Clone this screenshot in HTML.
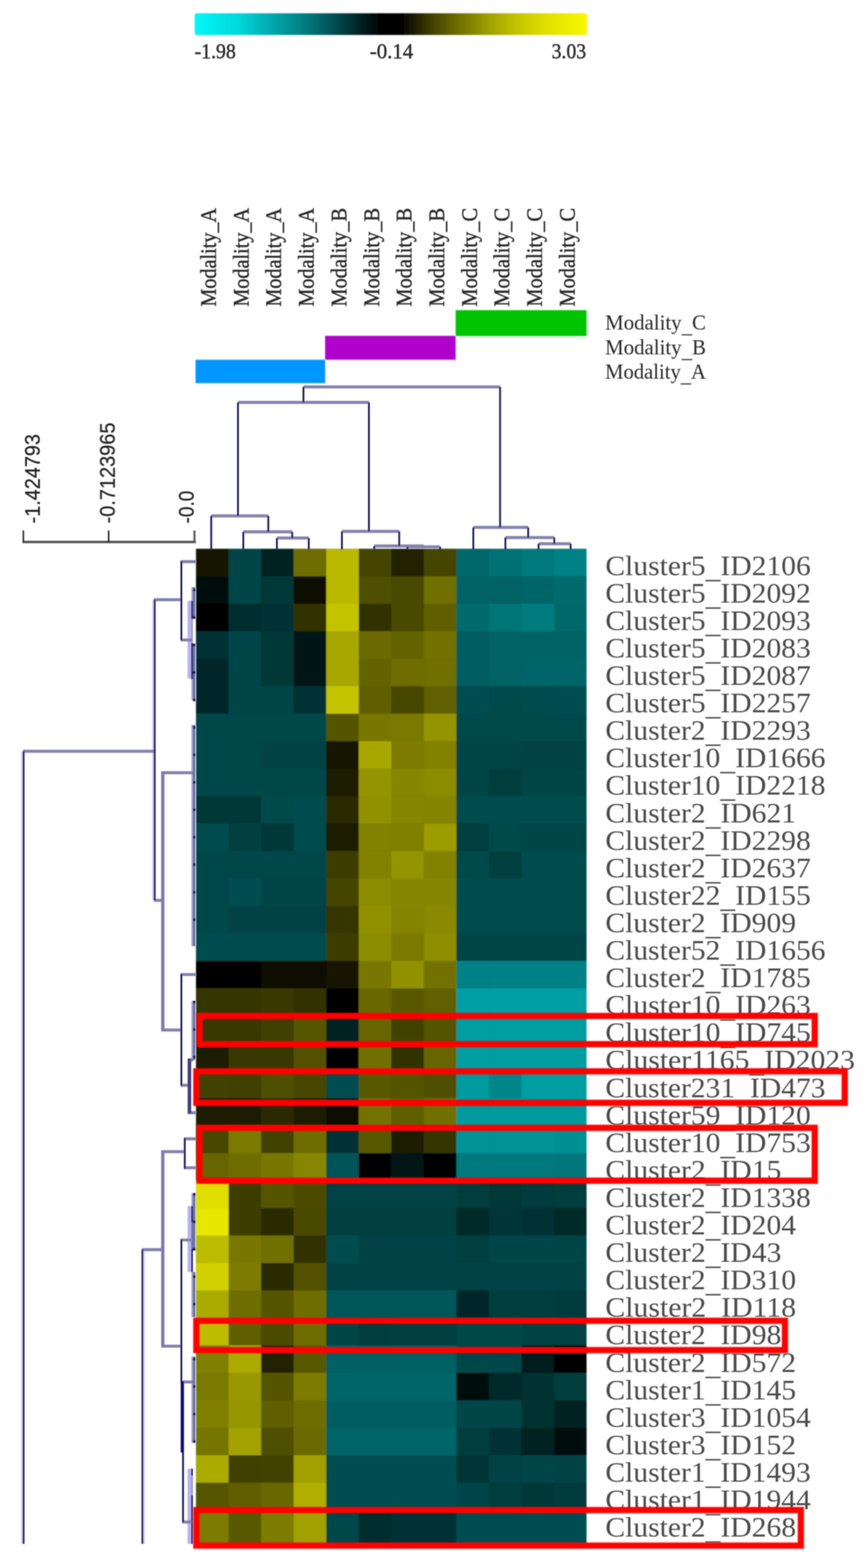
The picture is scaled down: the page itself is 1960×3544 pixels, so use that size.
<!DOCTYPE html>
<html lang="en"><head><meta charset="utf-8"><title>Hierarchical clustering heatmap</title>
<style>
html,body{margin:0;padding:0;background:#fff}
body{width:1960px;height:3544px;overflow:hidden}
svg{display:block}
.se{font-family:"Liberation Serif","DejaVu Serif",serif;fill:#2b2b2b}
.sa{font-family:"Liberation Sans","DejaVu Sans",sans-serif;fill:#222;stroke:#222;stroke-width:.5}
.cl{stroke:#2b2b2b;stroke-width:.9}
.rl{fill:#4c4c4c}
.v{stroke:#161257;stroke-width:4;fill:none}
.vw{stroke:#7f79ab;stroke-width:7.4;fill:none}
.vk{stroke:#0c0a6c;stroke-width:7.4;fill:none}
.vq{stroke:#3f3f7c;stroke-width:8;fill:none}
.ha{stroke:#cfc8fb;stroke-width:3.7;fill:none}
.h{stroke:#8583b0;stroke-width:6.8;fill:none}
.rb{stroke:#ff0505;stroke-width:14;fill:none}
.ri{stroke:#ff1800;stroke-opacity:.42;stroke-width:21;fill:none}
</style></head><body>
<svg width="1960" height="3544" viewBox="0 0 1960 3544" role="img" aria-label="Hierarchical clustering heat map">
<defs>
<linearGradient id="cb" x1="0" y1="0" x2="1" y2="0"><stop offset="0" stop-color="#00f8f8"/><stop offset="0.11" stop-color="#00d8dc"/><stop offset="0.19" stop-color="#00acb0"/><stop offset="0.27" stop-color="#008286"/><stop offset="0.35" stop-color="#005256"/><stop offset="0.43" stop-color="#001c1e"/><stop offset="0.47" stop-color="#000404"/><stop offset="0.53" stop-color="#040400"/><stop offset="0.59" stop-color="#363400"/><stop offset="0.67" stop-color="#6e6e00"/><stop offset="0.75" stop-color="#a0a000"/><stop offset="0.82" stop-color="#c3c300"/><stop offset="0.90" stop-color="#e1e100"/><stop offset="1" stop-color="#f8f800"/></linearGradient>
<filter id="bl" x="-5%" y="-5%" width="110%" height="110%"><feGaussianBlur stdDeviation="1.4"/></filter>
<filter id="bh" filterUnits="userSpaceOnUse" x="400" y="1200" width="980" height="2330"><feGaussianBlur stdDeviation="1.8"/></filter>
<filter id="bd" filterUnits="userSpaceOnUse" x="0" y="840" width="1400" height="2700"><feGaussianBlur stdDeviation="1.1"/></filter>
<filter id="bb" filterUnits="userSpaceOnUse" x="400" y="2250" width="1560" height="1290"><feGaussianBlur stdDeviation="1.5"/></filter>
<filter id="bt" x="-5%" y="-20%" width="110%" height="140%"><feGaussianBlur stdDeviation="0.8"/></filter>
<clipPath id="hc"><rect x="400" y="1200" width="927" height="2340"/></clipPath>
</defs>
<rect width="1960" height="3544" fill="#fff"/>
<g id="colorbar">
<rect x="440" y="30" width="887" height="49" rx="5" fill="url(#cb)" filter="url(#bl)"/>
<g class="se cl" font-size="49" filter="url(#bt)">
<text x="440" y="132" textLength="93" lengthAdjust="spacingAndGlyphs">-1.98</text>
<text x="836" y="132" textLength="98" lengthAdjust="spacingAndGlyphs">-0.14</text>
<text x="1247" y="132" textLength="78" lengthAdjust="spacingAndGlyphs">3.03</text>
</g></g>
<g id="collabels" class="se cl" font-size="51" filter="url(#bt)">
<text transform="translate(488,693) rotate(-90)" textLength="223" lengthAdjust="spacingAndGlyphs">Modality_A</text>
<text transform="translate(561.7,693) rotate(-90)" textLength="223" lengthAdjust="spacingAndGlyphs">Modality_A</text>
<text transform="translate(635.4,693) rotate(-90)" textLength="223" lengthAdjust="spacingAndGlyphs">Modality_A</text>
<text transform="translate(709.1,693) rotate(-90)" textLength="223" lengthAdjust="spacingAndGlyphs">Modality_A</text>
<text transform="translate(782.8,693) rotate(-90)" textLength="223" lengthAdjust="spacingAndGlyphs">Modality_B</text>
<text transform="translate(856.5,693) rotate(-90)" textLength="223" lengthAdjust="spacingAndGlyphs">Modality_B</text>
<text transform="translate(930.2,693) rotate(-90)" textLength="223" lengthAdjust="spacingAndGlyphs">Modality_B</text>
<text transform="translate(1003.9,693) rotate(-90)" textLength="223" lengthAdjust="spacingAndGlyphs">Modality_B</text>
<text transform="translate(1077.6,693) rotate(-90)" textLength="223" lengthAdjust="spacingAndGlyphs">Modality_C</text>
<text transform="translate(1151.3,693) rotate(-90)" textLength="223" lengthAdjust="spacingAndGlyphs">Modality_C</text>
<text transform="translate(1225,693) rotate(-90)" textLength="223" lengthAdjust="spacingAndGlyphs">Modality_C</text>
<text transform="translate(1298.7,693) rotate(-90)" textLength="223" lengthAdjust="spacingAndGlyphs">Modality_C</text>
</g>
<g id="bands" filter="url(#bl)">
<rect x="1030" y="701" width="296" height="58.5" fill="#00c400"/>
<rect x="735" y="759" width="295" height="54" fill="#b000cc"/>
<rect x="442" y="813" width="293" height="53" fill="#0096ff"/>
</g>
<g id="legend" class="se" font-size="49" filter="url(#bt)">
<text x="1368" y="745" textLength="228" lengthAdjust="spacingAndGlyphs">Modality<tspan dy="7">_</tspan><tspan dy="-7">C</tspan></text>
<text x="1368" y="800.5" textLength="228" lengthAdjust="spacingAndGlyphs">Modality<tspan dy="7">_</tspan><tspan dy="-7">B</tspan></text>
<text x="1368" y="856" textLength="228" lengthAdjust="spacingAndGlyphs">Modality<tspan dy="7">_</tspan><tspan dy="-7">A</tspan></text>
</g>
<g id="heatmap" filter="url(#bh)">
<rect x="443.2" y="1240.5" width="882.8" height="2249.5" fill="#004848"/>
<rect x="443.2" y="1240.5" width="74.1" height="62.6" fill="#141400"/>
<rect x="516.8" y="1240.5" width="74.1" height="62.6" fill="#004446"/>
<rect x="590.3" y="1240.5" width="74.1" height="62.6" fill="#002324"/>
<rect x="663.9" y="1240.5" width="74.1" height="62.6" fill="#6e6d00"/>
<rect x="737.5" y="1240.5" width="74.1" height="62.6" fill="#bab900"/>
<rect x="811" y="1240.5" width="74.1" height="62.6" fill="#454500"/>
<rect x="884.6" y="1240.5" width="74.1" height="62.6" fill="#242400"/>
<rect x="958.2" y="1240.5" width="74.1" height="62.6" fill="#454500"/>
<rect x="1031.7" y="1240.5" width="74.1" height="62.6" fill="#00686b"/>
<rect x="1105.3" y="1240.5" width="74.1" height="62.6" fill="#007275"/>
<rect x="1178.9" y="1240.5" width="74.1" height="62.6" fill="#00797d"/>
<rect x="1252.4" y="1240.5" width="73.6" height="62.6" fill="#008185"/>
<rect x="443.2" y="1302.6" width="74.1" height="62.6" fill="#000a0a"/>
<rect x="516.8" y="1302.6" width="74.1" height="62.6" fill="#004446"/>
<rect x="590.3" y="1302.6" width="74.1" height="62.6" fill="#003839"/>
<rect x="663.9" y="1302.6" width="74.1" height="62.6" fill="#0d0d00"/>
<rect x="737.5" y="1302.6" width="74.1" height="62.6" fill="#bab900"/>
<rect x="811" y="1302.6" width="74.1" height="62.6" fill="#4f4f00"/>
<rect x="884.6" y="1302.6" width="74.1" height="62.6" fill="#4a4a00"/>
<rect x="958.2" y="1302.6" width="74.1" height="62.6" fill="#707000"/>
<rect x="1031.7" y="1302.6" width="74.1" height="62.6" fill="#006265"/>
<rect x="1105.3" y="1302.6" width="74.1" height="62.6" fill="#006265"/>
<rect x="1178.9" y="1302.6" width="74.1" height="62.6" fill="#006568"/>
<rect x="1252.4" y="1302.6" width="73.6" height="62.6" fill="#006a6d"/>
<rect x="443.2" y="1364.7" width="74.1" height="62.6" fill="#000000"/>
<rect x="516.8" y="1364.7" width="74.1" height="62.6" fill="#002d2f"/>
<rect x="590.3" y="1364.7" width="74.1" height="62.6" fill="#003234"/>
<rect x="663.9" y="1364.7" width="74.1" height="62.6" fill="#333300"/>
<rect x="737.5" y="1364.7" width="74.1" height="62.6" fill="#c4c300"/>
<rect x="811" y="1364.7" width="74.1" height="62.6" fill="#333300"/>
<rect x="884.6" y="1364.7" width="74.1" height="62.6" fill="#4a4a00"/>
<rect x="958.2" y="1364.7" width="74.1" height="62.6" fill="#5e5e00"/>
<rect x="1031.7" y="1364.7" width="74.1" height="62.6" fill="#006a6d"/>
<rect x="1105.3" y="1364.7" width="74.1" height="62.6" fill="#007478"/>
<rect x="1178.9" y="1364.7" width="74.1" height="62.6" fill="#007c7f"/>
<rect x="1252.4" y="1364.7" width="73.6" height="62.6" fill="#00686b"/>
<rect x="443.2" y="1426.7" width="74.1" height="62.6" fill="#003234"/>
<rect x="516.8" y="1426.7" width="74.1" height="62.6" fill="#004446"/>
<rect x="590.3" y="1426.7" width="74.1" height="62.6" fill="#003839"/>
<rect x="663.9" y="1426.7" width="74.1" height="62.6" fill="#001212"/>
<rect x="737.5" y="1426.7" width="74.1" height="62.6" fill="#a8a700"/>
<rect x="811" y="1426.7" width="74.1" height="62.6" fill="#6b6b00"/>
<rect x="884.6" y="1426.7" width="74.1" height="62.6" fill="#636300"/>
<rect x="958.2" y="1426.7" width="74.1" height="62.6" fill="#737200"/>
<rect x="1031.7" y="1426.7" width="74.1" height="62.6" fill="#005d60"/>
<rect x="1105.3" y="1426.7" width="74.1" height="62.6" fill="#006265"/>
<rect x="1178.9" y="1426.7" width="74.1" height="62.6" fill="#006265"/>
<rect x="1252.4" y="1426.7" width="73.6" height="62.6" fill="#006265"/>
<rect x="443.2" y="1488.8" width="74.1" height="62.6" fill="#00282a"/>
<rect x="516.8" y="1488.8" width="74.1" height="62.6" fill="#004446"/>
<rect x="590.3" y="1488.8" width="74.1" height="62.6" fill="#003839"/>
<rect x="663.9" y="1488.8" width="74.1" height="62.6" fill="#001717"/>
<rect x="737.5" y="1488.8" width="74.1" height="62.6" fill="#a8a700"/>
<rect x="811" y="1488.8" width="74.1" height="62.6" fill="#636300"/>
<rect x="884.6" y="1488.8" width="74.1" height="62.6" fill="#6e6d00"/>
<rect x="958.2" y="1488.8" width="74.1" height="62.6" fill="#707000"/>
<rect x="1031.7" y="1488.8" width="74.1" height="62.6" fill="#005d60"/>
<rect x="1105.3" y="1488.8" width="74.1" height="62.6" fill="#006265"/>
<rect x="1178.9" y="1488.8" width="74.1" height="62.6" fill="#006568"/>
<rect x="1252.4" y="1488.8" width="73.6" height="62.6" fill="#006568"/>
<rect x="443.2" y="1550.9" width="74.1" height="62.6" fill="#00282a"/>
<rect x="516.8" y="1550.9" width="74.1" height="62.6" fill="#004446"/>
<rect x="590.3" y="1550.9" width="74.1" height="62.6" fill="#004446"/>
<rect x="663.9" y="1550.9" width="74.1" height="62.6" fill="#003234"/>
<rect x="737.5" y="1550.9" width="74.1" height="62.6" fill="#c4c300"/>
<rect x="811" y="1550.9" width="74.1" height="62.6" fill="#5e5e00"/>
<rect x="884.6" y="1550.9" width="74.1" height="62.6" fill="#474700"/>
<rect x="958.2" y="1550.9" width="74.1" height="62.6" fill="#616000"/>
<rect x="1031.7" y="1550.9" width="74.1" height="62.6" fill="#004e51"/>
<rect x="1105.3" y="1550.9" width="74.1" height="62.6" fill="#00494b"/>
<rect x="1178.9" y="1550.9" width="74.1" height="62.6" fill="#004c4e"/>
<rect x="1252.4" y="1550.9" width="73.6" height="62.6" fill="#004e51"/>
<rect x="443.2" y="1613" width="74.1" height="62.6" fill="#004749"/>
<rect x="516.8" y="1613" width="74.1" height="62.6" fill="#004749"/>
<rect x="590.3" y="1613" width="74.1" height="62.6" fill="#004749"/>
<rect x="663.9" y="1613" width="74.1" height="62.6" fill="#004749"/>
<rect x="737.5" y="1613" width="74.1" height="62.6" fill="#545400"/>
<rect x="811" y="1613" width="74.1" height="62.6" fill="#787700"/>
<rect x="884.6" y="1613" width="74.1" height="62.6" fill="#7a7a00"/>
<rect x="958.2" y="1613" width="74.1" height="62.6" fill="#949300"/>
<rect x="1031.7" y="1613" width="74.1" height="62.6" fill="#00494b"/>
<rect x="1105.3" y="1613" width="74.1" height="62.6" fill="#00494b"/>
<rect x="1178.9" y="1613" width="74.1" height="62.6" fill="#00494b"/>
<rect x="1252.4" y="1613" width="73.6" height="62.6" fill="#00494b"/>
<rect x="443.2" y="1675.1" width="74.1" height="62.6" fill="#004749"/>
<rect x="516.8" y="1675.1" width="74.1" height="62.6" fill="#004749"/>
<rect x="590.3" y="1675.1" width="74.1" height="62.6" fill="#004244"/>
<rect x="663.9" y="1675.1" width="74.1" height="62.6" fill="#004244"/>
<rect x="737.5" y="1675.1" width="74.1" height="62.6" fill="#171700"/>
<rect x="811" y="1675.1" width="74.1" height="62.6" fill="#a8a700"/>
<rect x="884.6" y="1675.1" width="74.1" height="62.6" fill="#7d7c00"/>
<rect x="958.2" y="1675.1" width="74.1" height="62.6" fill="#828100"/>
<rect x="1031.7" y="1675.1" width="74.1" height="62.6" fill="#004446"/>
<rect x="1105.3" y="1675.1" width="74.1" height="62.6" fill="#004446"/>
<rect x="1178.9" y="1675.1" width="74.1" height="62.6" fill="#004244"/>
<rect x="1252.4" y="1675.1" width="73.6" height="62.6" fill="#004244"/>
<rect x="443.2" y="1737.1" width="74.1" height="62.6" fill="#004749"/>
<rect x="516.8" y="1737.1" width="74.1" height="62.6" fill="#004749"/>
<rect x="590.3" y="1737.1" width="74.1" height="62.6" fill="#004749"/>
<rect x="663.9" y="1737.1" width="74.1" height="62.6" fill="#004749"/>
<rect x="737.5" y="1737.1" width="74.1" height="62.6" fill="#1c1c00"/>
<rect x="811" y="1737.1" width="74.1" height="62.6" fill="#949300"/>
<rect x="884.6" y="1737.1" width="74.1" height="62.6" fill="#878600"/>
<rect x="958.2" y="1737.1" width="74.1" height="62.6" fill="#8c8c00"/>
<rect x="1031.7" y="1737.1" width="74.1" height="62.6" fill="#004446"/>
<rect x="1105.3" y="1737.1" width="74.1" height="62.6" fill="#003d3e"/>
<rect x="1178.9" y="1737.1" width="74.1" height="62.6" fill="#004446"/>
<rect x="1252.4" y="1737.1" width="73.6" height="62.6" fill="#004446"/>
<rect x="443.2" y="1799.2" width="74.1" height="62.6" fill="#003839"/>
<rect x="516.8" y="1799.2" width="74.1" height="62.6" fill="#003839"/>
<rect x="590.3" y="1799.2" width="74.1" height="62.6" fill="#00494b"/>
<rect x="663.9" y="1799.2" width="74.1" height="62.6" fill="#004c4e"/>
<rect x="737.5" y="1799.2" width="74.1" height="62.6" fill="#292900"/>
<rect x="811" y="1799.2" width="74.1" height="62.6" fill="#919100"/>
<rect x="884.6" y="1799.2" width="74.1" height="62.6" fill="#878600"/>
<rect x="958.2" y="1799.2" width="74.1" height="62.6" fill="#858400"/>
<rect x="1031.7" y="1799.2" width="74.1" height="62.6" fill="#004c4e"/>
<rect x="1105.3" y="1799.2" width="74.1" height="62.6" fill="#004c4e"/>
<rect x="1178.9" y="1799.2" width="74.1" height="62.6" fill="#004c4e"/>
<rect x="1252.4" y="1799.2" width="73.6" height="62.6" fill="#004c4e"/>
<rect x="443.2" y="1861.3" width="74.1" height="62.6" fill="#004c4e"/>
<rect x="516.8" y="1861.3" width="74.1" height="62.6" fill="#003f41"/>
<rect x="590.3" y="1861.3" width="74.1" height="62.6" fill="#003839"/>
<rect x="663.9" y="1861.3" width="74.1" height="62.6" fill="#004c4e"/>
<rect x="737.5" y="1861.3" width="74.1" height="62.6" fill="#1f1e00"/>
<rect x="811" y="1861.3" width="74.1" height="62.6" fill="#828100"/>
<rect x="884.6" y="1861.3" width="74.1" height="62.6" fill="#807f00"/>
<rect x="958.2" y="1861.3" width="74.1" height="62.6" fill="#9c9b00"/>
<rect x="1031.7" y="1861.3" width="74.1" height="62.6" fill="#003f41"/>
<rect x="1105.3" y="1861.3" width="74.1" height="62.6" fill="#00494b"/>
<rect x="1178.9" y="1861.3" width="74.1" height="62.6" fill="#004446"/>
<rect x="1252.4" y="1861.3" width="73.6" height="62.6" fill="#004446"/>
<rect x="443.2" y="1923.4" width="74.1" height="62.6" fill="#004749"/>
<rect x="516.8" y="1923.4" width="74.1" height="62.6" fill="#004749"/>
<rect x="590.3" y="1923.4" width="74.1" height="62.6" fill="#004749"/>
<rect x="663.9" y="1923.4" width="74.1" height="62.6" fill="#004749"/>
<rect x="737.5" y="1923.4" width="74.1" height="62.6" fill="#3d3d00"/>
<rect x="811" y="1923.4" width="74.1" height="62.6" fill="#828100"/>
<rect x="884.6" y="1923.4" width="74.1" height="62.6" fill="#949300"/>
<rect x="958.2" y="1923.4" width="74.1" height="62.6" fill="#828100"/>
<rect x="1031.7" y="1923.4" width="74.1" height="62.6" fill="#00494b"/>
<rect x="1105.3" y="1923.4" width="74.1" height="62.6" fill="#003f41"/>
<rect x="1178.9" y="1923.4" width="74.1" height="62.6" fill="#004c4e"/>
<rect x="1252.4" y="1923.4" width="73.6" height="62.6" fill="#004c4e"/>
<rect x="443.2" y="1985.5" width="74.1" height="62.6" fill="#004749"/>
<rect x="516.8" y="1985.5" width="74.1" height="62.6" fill="#004e51"/>
<rect x="590.3" y="1985.5" width="74.1" height="62.6" fill="#004446"/>
<rect x="663.9" y="1985.5" width="74.1" height="62.6" fill="#004446"/>
<rect x="737.5" y="1985.5" width="74.1" height="62.6" fill="#454500"/>
<rect x="811" y="1985.5" width="74.1" height="62.6" fill="#8c8c00"/>
<rect x="884.6" y="1985.5" width="74.1" height="62.6" fill="#878600"/>
<rect x="958.2" y="1985.5" width="74.1" height="62.6" fill="#878600"/>
<rect x="1031.7" y="1985.5" width="74.1" height="62.6" fill="#004c4e"/>
<rect x="1105.3" y="1985.5" width="74.1" height="62.6" fill="#004c4e"/>
<rect x="1178.9" y="1985.5" width="74.1" height="62.6" fill="#004c4e"/>
<rect x="1252.4" y="1985.5" width="73.6" height="62.6" fill="#004c4e"/>
<rect x="443.2" y="2047.5" width="74.1" height="62.6" fill="#004749"/>
<rect x="516.8" y="2047.5" width="74.1" height="62.6" fill="#004244"/>
<rect x="590.3" y="2047.5" width="74.1" height="62.6" fill="#004244"/>
<rect x="663.9" y="2047.5" width="74.1" height="62.6" fill="#004244"/>
<rect x="737.5" y="2047.5" width="74.1" height="62.6" fill="#363500"/>
<rect x="811" y="2047.5" width="74.1" height="62.6" fill="#919100"/>
<rect x="884.6" y="2047.5" width="74.1" height="62.6" fill="#858400"/>
<rect x="958.2" y="2047.5" width="74.1" height="62.6" fill="#8a8900"/>
<rect x="1031.7" y="2047.5" width="74.1" height="62.6" fill="#004c4e"/>
<rect x="1105.3" y="2047.5" width="74.1" height="62.6" fill="#004c4e"/>
<rect x="1178.9" y="2047.5" width="74.1" height="62.6" fill="#004c4e"/>
<rect x="1252.4" y="2047.5" width="73.6" height="62.6" fill="#004c4e"/>
<rect x="443.2" y="2109.6" width="74.1" height="62.6" fill="#004c4e"/>
<rect x="516.8" y="2109.6" width="74.1" height="62.6" fill="#004c4e"/>
<rect x="590.3" y="2109.6" width="74.1" height="62.6" fill="#004c4e"/>
<rect x="663.9" y="2109.6" width="74.1" height="62.6" fill="#004c4e"/>
<rect x="737.5" y="2109.6" width="74.1" height="62.6" fill="#3d3d00"/>
<rect x="811" y="2109.6" width="74.1" height="62.6" fill="#8c8c00"/>
<rect x="884.6" y="2109.6" width="74.1" height="62.6" fill="#7a7a00"/>
<rect x="958.2" y="2109.6" width="74.1" height="62.6" fill="#8f8e00"/>
<rect x="1031.7" y="2109.6" width="74.1" height="62.6" fill="#004446"/>
<rect x="1105.3" y="2109.6" width="74.1" height="62.6" fill="#004446"/>
<rect x="1178.9" y="2109.6" width="74.1" height="62.6" fill="#004446"/>
<rect x="1252.4" y="2109.6" width="73.6" height="62.6" fill="#004446"/>
<rect x="443.2" y="2171.7" width="74.1" height="62.6" fill="#000000"/>
<rect x="516.8" y="2171.7" width="74.1" height="62.6" fill="#000000"/>
<rect x="590.3" y="2171.7" width="74.1" height="62.6" fill="#0d0d00"/>
<rect x="663.9" y="2171.7" width="74.1" height="62.6" fill="#0d0d00"/>
<rect x="737.5" y="2171.7" width="74.1" height="62.6" fill="#171700"/>
<rect x="811" y="2171.7" width="74.1" height="62.6" fill="#787700"/>
<rect x="884.6" y="2171.7" width="74.1" height="62.6" fill="#919100"/>
<rect x="958.2" y="2171.7" width="74.1" height="62.6" fill="#737200"/>
<rect x="1031.7" y="2171.7" width="74.1" height="62.6" fill="#008185"/>
<rect x="1105.3" y="2171.7" width="74.1" height="62.6" fill="#008185"/>
<rect x="1178.9" y="2171.7" width="74.1" height="62.6" fill="#008185"/>
<rect x="1252.4" y="2171.7" width="73.6" height="62.6" fill="#008185"/>
<rect x="443.2" y="2233.8" width="74.1" height="62.6" fill="#363500"/>
<rect x="516.8" y="2233.8" width="74.1" height="62.6" fill="#363500"/>
<rect x="590.3" y="2233.8" width="74.1" height="62.6" fill="#383800"/>
<rect x="663.9" y="2233.8" width="74.1" height="62.6" fill="#303000"/>
<rect x="737.5" y="2233.8" width="74.1" height="62.6" fill="#000000"/>
<rect x="811" y="2233.8" width="74.1" height="62.6" fill="#696800"/>
<rect x="884.6" y="2233.8" width="74.1" height="62.6" fill="#595900"/>
<rect x="958.2" y="2233.8" width="74.1" height="62.6" fill="#616000"/>
<rect x="1031.7" y="2233.8" width="74.1" height="62.6" fill="#009fa4"/>
<rect x="1105.3" y="2233.8" width="74.1" height="62.6" fill="#009fa4"/>
<rect x="1178.9" y="2233.8" width="74.1" height="62.6" fill="#009fa4"/>
<rect x="1252.4" y="2233.8" width="73.6" height="62.6" fill="#009fa4"/>
<rect x="443.2" y="2295.9" width="74.1" height="62.6" fill="#383800"/>
<rect x="516.8" y="2295.9" width="74.1" height="62.6" fill="#383800"/>
<rect x="590.3" y="2295.9" width="74.1" height="62.6" fill="#403f00"/>
<rect x="663.9" y="2295.9" width="74.1" height="62.6" fill="#575600"/>
<rect x="737.5" y="2295.9" width="74.1" height="62.6" fill="#002324"/>
<rect x="811" y="2295.9" width="74.1" height="62.6" fill="#666500"/>
<rect x="884.6" y="2295.9" width="74.1" height="62.6" fill="#424200"/>
<rect x="958.2" y="2295.9" width="74.1" height="62.6" fill="#545400"/>
<rect x="1031.7" y="2295.9" width="74.1" height="62.6" fill="#009da1"/>
<rect x="1105.3" y="2295.9" width="74.1" height="62.6" fill="#009da1"/>
<rect x="1178.9" y="2295.9" width="74.1" height="62.6" fill="#009da1"/>
<rect x="1252.4" y="2295.9" width="73.6" height="62.6" fill="#009da1"/>
<rect x="443.2" y="2357.9" width="74.1" height="62.6" fill="#1c1c00"/>
<rect x="516.8" y="2357.9" width="74.1" height="62.6" fill="#383800"/>
<rect x="590.3" y="2357.9" width="74.1" height="62.6" fill="#383800"/>
<rect x="663.9" y="2357.9" width="74.1" height="62.6" fill="#525100"/>
<rect x="737.5" y="2357.9" width="74.1" height="62.6" fill="#000000"/>
<rect x="811" y="2357.9" width="74.1" height="62.6" fill="#707000"/>
<rect x="884.6" y="2357.9" width="74.1" height="62.6" fill="#303000"/>
<rect x="958.2" y="2357.9" width="74.1" height="62.6" fill="#666500"/>
<rect x="1031.7" y="2357.9" width="74.1" height="62.6" fill="#009da1"/>
<rect x="1105.3" y="2357.9" width="74.1" height="62.6" fill="#009da1"/>
<rect x="1178.9" y="2357.9" width="74.1" height="62.6" fill="#009da1"/>
<rect x="1252.4" y="2357.9" width="73.6" height="62.6" fill="#009da1"/>
<rect x="443.2" y="2420" width="74.1" height="62.6" fill="#424200"/>
<rect x="516.8" y="2420" width="74.1" height="62.6" fill="#403f00"/>
<rect x="590.3" y="2420" width="74.1" height="62.6" fill="#4f4f00"/>
<rect x="663.9" y="2420" width="74.1" height="62.6" fill="#474700"/>
<rect x="737.5" y="2420" width="74.1" height="62.6" fill="#004e51"/>
<rect x="811" y="2420" width="74.1" height="62.6" fill="#595900"/>
<rect x="884.6" y="2420" width="74.1" height="62.6" fill="#545400"/>
<rect x="958.2" y="2420" width="74.1" height="62.6" fill="#4f4f00"/>
<rect x="1031.7" y="2420" width="74.1" height="62.6" fill="#009a9f"/>
<rect x="1105.3" y="2420" width="74.1" height="62.6" fill="#00868a"/>
<rect x="1178.9" y="2420" width="74.1" height="62.6" fill="#009da1"/>
<rect x="1252.4" y="2420" width="73.6" height="62.6" fill="#009da1"/>
<rect x="443.2" y="2482.1" width="74.1" height="62.6" fill="#1f1e00"/>
<rect x="516.8" y="2482.1" width="74.1" height="62.6" fill="#1c1c00"/>
<rect x="590.3" y="2482.1" width="74.1" height="62.6" fill="#292900"/>
<rect x="663.9" y="2482.1" width="74.1" height="62.6" fill="#1c1c00"/>
<rect x="737.5" y="2482.1" width="74.1" height="62.6" fill="#0a0a00"/>
<rect x="811" y="2482.1" width="74.1" height="62.6" fill="#737200"/>
<rect x="884.6" y="2482.1" width="74.1" height="62.6" fill="#5e5e00"/>
<rect x="958.2" y="2482.1" width="74.1" height="62.6" fill="#707000"/>
<rect x="1031.7" y="2482.1" width="74.1" height="62.6" fill="#009a9f"/>
<rect x="1105.3" y="2482.1" width="74.1" height="62.6" fill="#009a9f"/>
<rect x="1178.9" y="2482.1" width="74.1" height="62.6" fill="#009a9f"/>
<rect x="1252.4" y="2482.1" width="73.6" height="62.6" fill="#009a9f"/>
<rect x="443.2" y="2544.2" width="74.1" height="62.6" fill="#474700"/>
<rect x="516.8" y="2544.2" width="74.1" height="62.6" fill="#7a7a00"/>
<rect x="590.3" y="2544.2" width="74.1" height="62.6" fill="#424200"/>
<rect x="663.9" y="2544.2" width="74.1" height="62.6" fill="#6e6d00"/>
<rect x="737.5" y="2544.2" width="74.1" height="62.6" fill="#003234"/>
<rect x="811" y="2544.2" width="74.1" height="62.6" fill="#595900"/>
<rect x="884.6" y="2544.2" width="74.1" height="62.6" fill="#1f1e00"/>
<rect x="958.2" y="2544.2" width="74.1" height="62.6" fill="#363500"/>
<rect x="1031.7" y="2544.2" width="74.1" height="62.6" fill="#009297"/>
<rect x="1105.3" y="2544.2" width="74.1" height="62.6" fill="#009297"/>
<rect x="1178.9" y="2544.2" width="74.1" height="62.6" fill="#009297"/>
<rect x="1252.4" y="2544.2" width="73.6" height="62.6" fill="#009094"/>
<rect x="443.2" y="2606.3" width="74.1" height="62.6" fill="#666500"/>
<rect x="516.8" y="2606.3" width="74.1" height="62.6" fill="#6e6d00"/>
<rect x="590.3" y="2606.3" width="74.1" height="62.6" fill="#787700"/>
<rect x="663.9" y="2606.3" width="74.1" height="62.6" fill="#878600"/>
<rect x="737.5" y="2606.3" width="74.1" height="62.6" fill="#005356"/>
<rect x="811" y="2606.3" width="74.1" height="62.6" fill="#050500"/>
<rect x="884.6" y="2606.3" width="74.1" height="62.6" fill="#001212"/>
<rect x="958.2" y="2606.3" width="74.1" height="62.6" fill="#000000"/>
<rect x="1031.7" y="2606.3" width="74.1" height="62.6" fill="#00797d"/>
<rect x="1105.3" y="2606.3" width="74.1" height="62.6" fill="#00797d"/>
<rect x="1178.9" y="2606.3" width="74.1" height="62.6" fill="#00797d"/>
<rect x="1252.4" y="2606.3" width="73.6" height="62.6" fill="#00777a"/>
<rect x="443.2" y="2668.3" width="74.1" height="62.6" fill="#e0df00"/>
<rect x="516.8" y="2668.3" width="74.1" height="62.6" fill="#3d3d00"/>
<rect x="590.3" y="2668.3" width="74.1" height="62.6" fill="#545400"/>
<rect x="663.9" y="2668.3" width="74.1" height="62.6" fill="#4c4c00"/>
<rect x="737.5" y="2668.3" width="74.1" height="62.6" fill="#004244"/>
<rect x="811" y="2668.3" width="74.1" height="62.6" fill="#004244"/>
<rect x="884.6" y="2668.3" width="74.1" height="62.6" fill="#004244"/>
<rect x="958.2" y="2668.3" width="74.1" height="62.6" fill="#004244"/>
<rect x="1031.7" y="2668.3" width="74.1" height="62.6" fill="#003d3e"/>
<rect x="1105.3" y="2668.3" width="74.1" height="62.6" fill="#003839"/>
<rect x="1178.9" y="2668.3" width="74.1" height="62.6" fill="#003a3c"/>
<rect x="1252.4" y="2668.3" width="73.6" height="62.6" fill="#003d3e"/>
<rect x="443.2" y="2730.4" width="74.1" height="62.6" fill="#e8e700"/>
<rect x="516.8" y="2730.4" width="74.1" height="62.6" fill="#3d3d00"/>
<rect x="590.3" y="2730.4" width="74.1" height="62.6" fill="#2b2b00"/>
<rect x="663.9" y="2730.4" width="74.1" height="62.6" fill="#4a4a00"/>
<rect x="737.5" y="2730.4" width="74.1" height="62.6" fill="#003f41"/>
<rect x="811" y="2730.4" width="74.1" height="62.6" fill="#003f41"/>
<rect x="884.6" y="2730.4" width="74.1" height="62.6" fill="#003f41"/>
<rect x="958.2" y="2730.4" width="74.1" height="62.6" fill="#003f41"/>
<rect x="1031.7" y="2730.4" width="74.1" height="62.6" fill="#002b2c"/>
<rect x="1105.3" y="2730.4" width="74.1" height="62.6" fill="#003537"/>
<rect x="1178.9" y="2730.4" width="74.1" height="62.6" fill="#003234"/>
<rect x="1252.4" y="2730.4" width="73.6" height="62.6" fill="#002b2c"/>
<rect x="443.2" y="2792.5" width="74.1" height="62.6" fill="#bdbc00"/>
<rect x="516.8" y="2792.5" width="74.1" height="62.6" fill="#787700"/>
<rect x="590.3" y="2792.5" width="74.1" height="62.6" fill="#707000"/>
<rect x="663.9" y="2792.5" width="74.1" height="62.6" fill="#333300"/>
<rect x="737.5" y="2792.5" width="74.1" height="62.6" fill="#004c4e"/>
<rect x="811" y="2792.5" width="74.1" height="62.6" fill="#004244"/>
<rect x="884.6" y="2792.5" width="74.1" height="62.6" fill="#004244"/>
<rect x="958.2" y="2792.5" width="74.1" height="62.6" fill="#004244"/>
<rect x="1031.7" y="2792.5" width="74.1" height="62.6" fill="#003f41"/>
<rect x="1105.3" y="2792.5" width="74.1" height="62.6" fill="#004446"/>
<rect x="1178.9" y="2792.5" width="74.1" height="62.6" fill="#004446"/>
<rect x="1252.4" y="2792.5" width="73.6" height="62.6" fill="#004446"/>
<rect x="443.2" y="2854.6" width="74.1" height="62.6" fill="#d1d000"/>
<rect x="516.8" y="2854.6" width="74.1" height="62.6" fill="#7d7c00"/>
<rect x="590.3" y="2854.6" width="74.1" height="62.6" fill="#2b2b00"/>
<rect x="663.9" y="2854.6" width="74.1" height="62.6" fill="#525100"/>
<rect x="737.5" y="2854.6" width="74.1" height="62.6" fill="#004244"/>
<rect x="811" y="2854.6" width="74.1" height="62.6" fill="#004244"/>
<rect x="884.6" y="2854.6" width="74.1" height="62.6" fill="#004244"/>
<rect x="958.2" y="2854.6" width="74.1" height="62.6" fill="#004244"/>
<rect x="1031.7" y="2854.6" width="74.1" height="62.6" fill="#004244"/>
<rect x="1105.3" y="2854.6" width="74.1" height="62.6" fill="#004244"/>
<rect x="1178.9" y="2854.6" width="74.1" height="62.6" fill="#004244"/>
<rect x="1252.4" y="2854.6" width="73.6" height="62.6" fill="#004244"/>
<rect x="443.2" y="2916.7" width="74.1" height="62.6" fill="#abaa00"/>
<rect x="516.8" y="2916.7" width="74.1" height="62.6" fill="#6e6d00"/>
<rect x="590.3" y="2916.7" width="74.1" height="62.6" fill="#545400"/>
<rect x="663.9" y="2916.7" width="74.1" height="62.6" fill="#6e6d00"/>
<rect x="737.5" y="2916.7" width="74.1" height="62.6" fill="#005658"/>
<rect x="811" y="2916.7" width="74.1" height="62.6" fill="#005658"/>
<rect x="884.6" y="2916.7" width="74.1" height="62.6" fill="#005658"/>
<rect x="958.2" y="2916.7" width="74.1" height="62.6" fill="#005658"/>
<rect x="1031.7" y="2916.7" width="74.1" height="62.6" fill="#00282a"/>
<rect x="1105.3" y="2916.7" width="74.1" height="62.6" fill="#003d3e"/>
<rect x="1178.9" y="2916.7" width="74.1" height="62.6" fill="#003d3e"/>
<rect x="1252.4" y="2916.7" width="73.6" height="62.6" fill="#003a3c"/>
<rect x="443.2" y="2978.7" width="74.1" height="62.6" fill="#bdbc00"/>
<rect x="516.8" y="2978.7" width="74.1" height="62.6" fill="#5e5e00"/>
<rect x="590.3" y="2978.7" width="74.1" height="62.6" fill="#4c4c00"/>
<rect x="663.9" y="2978.7" width="74.1" height="62.6" fill="#6e6d00"/>
<rect x="737.5" y="2978.7" width="74.1" height="62.6" fill="#004446"/>
<rect x="811" y="2978.7" width="74.1" height="62.6" fill="#003d3e"/>
<rect x="884.6" y="2978.7" width="74.1" height="62.6" fill="#003f41"/>
<rect x="958.2" y="2978.7" width="74.1" height="62.6" fill="#003f41"/>
<rect x="1031.7" y="2978.7" width="74.1" height="62.6" fill="#004749"/>
<rect x="1105.3" y="2978.7" width="74.1" height="62.6" fill="#004749"/>
<rect x="1178.9" y="2978.7" width="74.1" height="62.6" fill="#004244"/>
<rect x="1252.4" y="2978.7" width="73.6" height="62.6" fill="#004244"/>
<rect x="443.2" y="3040.8" width="74.1" height="62.6" fill="#807f00"/>
<rect x="516.8" y="3040.8" width="74.1" height="62.6" fill="#abaa00"/>
<rect x="590.3" y="3040.8" width="74.1" height="62.6" fill="#242400"/>
<rect x="663.9" y="3040.8" width="74.1" height="62.6" fill="#595900"/>
<rect x="737.5" y="3040.8" width="74.1" height="62.6" fill="#006063"/>
<rect x="811" y="3040.8" width="74.1" height="62.6" fill="#006063"/>
<rect x="884.6" y="3040.8" width="74.1" height="62.6" fill="#006063"/>
<rect x="958.2" y="3040.8" width="74.1" height="62.6" fill="#006063"/>
<rect x="1031.7" y="3040.8" width="74.1" height="62.6" fill="#004749"/>
<rect x="1105.3" y="3040.8" width="74.1" height="62.6" fill="#004749"/>
<rect x="1178.9" y="3040.8" width="74.1" height="62.6" fill="#001e1f"/>
<rect x="1252.4" y="3040.8" width="73.6" height="62.6" fill="#000000"/>
<rect x="443.2" y="3102.9" width="74.1" height="62.6" fill="#7a7a00"/>
<rect x="516.8" y="3102.9" width="74.1" height="62.6" fill="#999800"/>
<rect x="590.3" y="3102.9" width="74.1" height="62.6" fill="#545400"/>
<rect x="663.9" y="3102.9" width="74.1" height="62.6" fill="#7d7c00"/>
<rect x="737.5" y="3102.9" width="74.1" height="62.6" fill="#006568"/>
<rect x="811" y="3102.9" width="74.1" height="62.6" fill="#006568"/>
<rect x="884.6" y="3102.9" width="74.1" height="62.6" fill="#006568"/>
<rect x="958.2" y="3102.9" width="74.1" height="62.6" fill="#006568"/>
<rect x="1031.7" y="3102.9" width="74.1" height="62.6" fill="#000a0a"/>
<rect x="1105.3" y="3102.9" width="74.1" height="62.6" fill="#002b2c"/>
<rect x="1178.9" y="3102.9" width="74.1" height="62.6" fill="#003031"/>
<rect x="1252.4" y="3102.9" width="73.6" height="62.6" fill="#003d3e"/>
<rect x="443.2" y="3165" width="74.1" height="62.6" fill="#807f00"/>
<rect x="516.8" y="3165" width="74.1" height="62.6" fill="#969600"/>
<rect x="590.3" y="3165" width="74.1" height="62.6" fill="#5e5e00"/>
<rect x="663.9" y="3165" width="74.1" height="62.6" fill="#6e6d00"/>
<rect x="737.5" y="3165" width="74.1" height="62.6" fill="#005d60"/>
<rect x="811" y="3165" width="74.1" height="62.6" fill="#005d60"/>
<rect x="884.6" y="3165" width="74.1" height="62.6" fill="#005d60"/>
<rect x="958.2" y="3165" width="74.1" height="62.6" fill="#005d60"/>
<rect x="1031.7" y="3165" width="74.1" height="62.6" fill="#004446"/>
<rect x="1105.3" y="3165" width="74.1" height="62.6" fill="#004446"/>
<rect x="1178.9" y="3165" width="74.1" height="62.6" fill="#003031"/>
<rect x="1252.4" y="3165" width="73.6" height="62.6" fill="#002324"/>
<rect x="443.2" y="3227.1" width="74.1" height="62.6" fill="#757500"/>
<rect x="516.8" y="3227.1" width="74.1" height="62.6" fill="#a3a200"/>
<rect x="590.3" y="3227.1" width="74.1" height="62.6" fill="#4f4f00"/>
<rect x="663.9" y="3227.1" width="74.1" height="62.6" fill="#6b6b00"/>
<rect x="737.5" y="3227.1" width="74.1" height="62.6" fill="#006568"/>
<rect x="811" y="3227.1" width="74.1" height="62.6" fill="#006568"/>
<rect x="884.6" y="3227.1" width="74.1" height="62.6" fill="#006568"/>
<rect x="958.2" y="3227.1" width="74.1" height="62.6" fill="#006568"/>
<rect x="1031.7" y="3227.1" width="74.1" height="62.6" fill="#003d3e"/>
<rect x="1105.3" y="3227.1" width="74.1" height="62.6" fill="#003234"/>
<rect x="1178.9" y="3227.1" width="74.1" height="62.6" fill="#002324"/>
<rect x="1252.4" y="3227.1" width="73.6" height="62.6" fill="#000a0a"/>
<rect x="443.2" y="3289.1" width="74.1" height="62.6" fill="#abaa00"/>
<rect x="516.8" y="3289.1" width="74.1" height="62.6" fill="#403f00"/>
<rect x="590.3" y="3289.1" width="74.1" height="62.6" fill="#424200"/>
<rect x="663.9" y="3289.1" width="74.1" height="62.6" fill="#a1a000"/>
<rect x="737.5" y="3289.1" width="74.1" height="62.6" fill="#004e51"/>
<rect x="811" y="3289.1" width="74.1" height="62.6" fill="#004e51"/>
<rect x="884.6" y="3289.1" width="74.1" height="62.6" fill="#004e51"/>
<rect x="958.2" y="3289.1" width="74.1" height="62.6" fill="#004e51"/>
<rect x="1031.7" y="3289.1" width="74.1" height="62.6" fill="#003537"/>
<rect x="1105.3" y="3289.1" width="74.1" height="62.6" fill="#004244"/>
<rect x="1178.9" y="3289.1" width="74.1" height="62.6" fill="#004446"/>
<rect x="1252.4" y="3289.1" width="73.6" height="62.6" fill="#004244"/>
<rect x="443.2" y="3351.2" width="74.1" height="62.6" fill="#575600"/>
<rect x="516.8" y="3351.2" width="74.1" height="62.6" fill="#5e5e00"/>
<rect x="590.3" y="3351.2" width="74.1" height="62.6" fill="#696800"/>
<rect x="663.9" y="3351.2" width="74.1" height="62.6" fill="#b0af00"/>
<rect x="737.5" y="3351.2" width="74.1" height="62.6" fill="#004e51"/>
<rect x="811" y="3351.2" width="74.1" height="62.6" fill="#004e51"/>
<rect x="884.6" y="3351.2" width="74.1" height="62.6" fill="#004e51"/>
<rect x="958.2" y="3351.2" width="74.1" height="62.6" fill="#004e51"/>
<rect x="1031.7" y="3351.2" width="74.1" height="62.6" fill="#004446"/>
<rect x="1105.3" y="3351.2" width="74.1" height="62.6" fill="#003d3e"/>
<rect x="1178.9" y="3351.2" width="74.1" height="62.6" fill="#003839"/>
<rect x="1252.4" y="3351.2" width="73.6" height="62.6" fill="#003a3c"/>
<rect x="443.2" y="3413.3" width="74.1" height="76.7" fill="#7d7c00"/>
<rect x="516.8" y="3413.3" width="74.1" height="76.7" fill="#595900"/>
<rect x="590.3" y="3413.3" width="74.1" height="76.7" fill="#7d7c00"/>
<rect x="663.9" y="3413.3" width="74.1" height="76.7" fill="#a1a000"/>
<rect x="737.5" y="3413.3" width="74.1" height="76.7" fill="#004749"/>
<rect x="811" y="3413.3" width="74.1" height="76.7" fill="#002d2f"/>
<rect x="884.6" y="3413.3" width="74.1" height="76.7" fill="#003234"/>
<rect x="958.2" y="3413.3" width="74.1" height="76.7" fill="#003234"/>
<rect x="1031.7" y="3413.3" width="74.1" height="76.7" fill="#004e51"/>
<rect x="1105.3" y="3413.3" width="74.1" height="76.7" fill="#004e51"/>
<rect x="1178.9" y="3413.3" width="74.1" height="76.7" fill="#004e51"/>
<rect x="1252.4" y="3413.3" width="73.6" height="76.7" fill="#004e51"/>
</g>
<g id="dendro" filter="url(#bd)">
<g>
<rect x="432.6" y="1327" width="4" height="70" fill="#a9a2c8"/>
<rect x="436.4" y="1327" width="4.6" height="70" fill="#5f68a0"/>
<rect x="440.8" y="1327" width="2.4" height="70" fill="#9fbce0" opacity=".7"/>
<rect x="436" y="1330.6" width="6" height="6" fill="#20245e"/>
<rect x="436" y="1392.7" width="6" height="6" fill="#20245e"/>
<rect x="432.6" y="1456" width="4" height="127" fill="#a9a2c8"/>
<rect x="436.4" y="1456" width="4.6" height="127" fill="#5f68a0"/>
<rect x="440.8" y="1456" width="2.4" height="127" fill="#9fbce0" opacity=".7"/>
<rect x="436" y="1454.8" width="6" height="6" fill="#20245e"/>
<rect x="436" y="1516.9" width="6" height="6" fill="#20245e"/>
<rect x="436" y="1578.9" width="6" height="6" fill="#20245e"/>
<rect x="432.6" y="1638.5" width="4" height="500" fill="#a9a2c8"/>
<rect x="436.4" y="1638.5" width="4.6" height="500" fill="#5f68a0"/>
<rect x="440.8" y="1638.5" width="2.4" height="500" fill="#9fbce0" opacity=".7"/>
<rect x="436" y="1641" width="6" height="6" fill="#20245e"/>
<rect x="436" y="1703.1" width="6" height="6" fill="#20245e"/>
<rect x="436" y="1765.2" width="6" height="6" fill="#20245e"/>
<rect x="436" y="1827.3" width="6" height="6" fill="#20245e"/>
<rect x="436" y="1889.3" width="6" height="6" fill="#20245e"/>
<rect x="436" y="1951.4" width="6" height="6" fill="#20245e"/>
<rect x="436" y="2013.5" width="6" height="6" fill="#20245e"/>
<rect x="436" y="2075.6" width="6" height="6" fill="#20245e"/>
<rect x="432.6" y="2262.5" width="4" height="133.5" fill="#a9a2c8"/>
<rect x="436.4" y="2262.5" width="4.6" height="133.5" fill="#5f68a0"/>
<rect x="440.8" y="2262.5" width="2.4" height="133.5" fill="#9fbce0" opacity=".7"/>
<rect x="436" y="2261.8" width="6" height="6" fill="#20245e"/>
<rect x="436" y="2323.9" width="6" height="6" fill="#20245e"/>
<rect x="436" y="2386" width="6" height="6" fill="#20245e"/>
<rect x="432.6" y="2697" width="4" height="125" fill="#a9a2c8"/>
<rect x="436.4" y="2697" width="4.6" height="125" fill="#5f68a0"/>
<rect x="440.8" y="2697" width="2.4" height="125" fill="#9fbce0" opacity=".7"/>
<rect x="436" y="2696.4" width="6" height="6" fill="#20245e"/>
<rect x="436" y="2758.5" width="6" height="6" fill="#20245e"/>
<rect x="436" y="2820.5" width="6" height="6" fill="#20245e"/>
<rect x="432.6" y="2875" width="4" height="102" fill="#a9a2c8"/>
<rect x="436.4" y="2875" width="4.6" height="102" fill="#5f68a0"/>
<rect x="440.8" y="2875" width="2.4" height="102" fill="#9fbce0" opacity=".7"/>
<rect x="436" y="2882.6" width="6" height="6" fill="#20245e"/>
<rect x="436" y="2944.7" width="6" height="6" fill="#20245e"/>
<rect x="432.6" y="3066" width="4" height="195" fill="#a9a2c8"/>
<rect x="436.4" y="3066" width="4.6" height="195" fill="#5f68a0"/>
<rect x="440.8" y="3066" width="2.4" height="195" fill="#9fbce0" opacity=".7"/>
<rect x="436" y="3068.9" width="6" height="6" fill="#20245e"/>
<rect x="436" y="3130.9" width="6" height="6" fill="#20245e"/>
<rect x="436" y="3193" width="6" height="6" fill="#20245e"/>
<rect x="436" y="3255.1" width="6" height="6" fill="#20245e"/>
<rect x="424" y="1358" width="8.4" height="176" fill="#b9b3f0"/>
<rect x="432.2" y="1358" width="3.8" height="40" fill="#0e0a5a"/>
<rect x="432.2" y="1454" width="3.8" height="81" fill="#0e0a5a"/>
<rect x="432.2" y="1358" width="3.8" height="176" fill="#3a3a80" opacity=".55"/>
<rect x="424" y="2726" width="8.4" height="149" fill="#b9b3f0"/>
<rect x="432.2" y="2726" width="3.8" height="36" fill="#0e0a5a"/>
<rect x="432.2" y="2822" width="3.8" height="53" fill="#0e0a5a"/>
<rect x="432.2" y="2726" width="3.8" height="149" fill="#3a3a80" opacity=".55"/>
<rect x="424" y="3319.5" width="8.4" height="170" fill="#b9b3f0"/>
<rect x="432.2" y="3319.5" width="3.8" height="15.5" fill="#0e0a5a"/>
<rect x="432.2" y="3380" width="3.8" height="109.5" fill="#0e0a5a"/>
<rect x="432.2" y="3319.5" width="3.8" height="170" fill="#3a3a80" opacity=".55"/>
</g>
<path class="ha" d="M49.7 1698V3489.5 M346.1 1355.5V2035 M325.6 2824.5V3489.5"/>
<path class="h" d="M626 1216H698 M550 1202H660.5 M477.5 1166H606.5 M921 1236H995 M846 1234H958 M773 1201H902.5 M538 909.5H834 M1217.5 1229H1290 M1142.5 1215H1253 M1070 1192H1194 M686 874.5H1130.5 M52 1698H349.7 M348 1355.5H410 M408.5 1269.5H443.2 M408.5 1446.5H434 M348 2035H368 M365 1746.5H436 M365 2328H410 M408.5 2202.7H443.2 M408.5 2453H425 M425 2515H443.2 M425 2395.5H437 M320.5 2824.5H368 M365 2603H417 M416 2574H443.2 M416 2639.4H443.2 M365 3042.7H410 M408.5 2802.7H434 M410 3123.5H436 M412 3440H433"/>
<path class="vw" d="M368 1744V2330 M368 2601V3044"/>
<path class="vq" d="M428.2 2393V2517"/>
<path class="vk" d="M412.2 3122V3283"/>
<path class="v" d="M626 1216V1241.5 M698 1216V1241.5 M550 1202V1241.5 M660.5 1202V1216 M477.5 1166V1241.5 M606.5 1166V1202 M921 1236V1241.5 M995 1236V1241.5 M846 1234V1241.5 M773 1201V1241.5 M902.5 1201V1234 M538 909.5V1166 M834 909.5V1201 M1217.5 1229V1241.5 M1290 1229V1241.5 M1142.5 1215V1241.5 M1253 1215V1229 M1070 1192V1241.5 M1194 1192V1215 M686 874.5V909.5 M1130.5 874.5V1192 M53.3 1698V3489.5 M349.7 1355.5V2035 M410 1268V1447 M410 2201V2454 M322 2824.5V3489.5 M417.7 2572V2641.5 M410 2801V3125 M413.8 3283V3441"/>
</g>
<g id="scale">
<g filter="url(#bt)"><path d="M51 1225H443" stroke="#555" stroke-width="5.4" fill="none"/>
<path d="M52.8 1199V1226M245.6 1199V1226" stroke="#161616" stroke-width="3.2" fill="none"/>
<path d="M439.6 1199V1226" stroke="#666" stroke-width="5" fill="none"/></g>
<g class="sa" font-size="49" filter="url(#bt)">
<text transform="translate(90,1183) rotate(-90)" textLength="202" lengthAdjust="spacingAndGlyphs">-1.424793</text>
<text transform="translate(259.5,1183) rotate(-90)" textLength="228" lengthAdjust="spacingAndGlyphs">-0.7123965</text>
<text transform="translate(438,1183) rotate(-90)" textLength="74" lengthAdjust="spacingAndGlyphs">-0.0</text>
</g></g>
<g id="rowlabels" class="se rl" font-size="64" filter="url(#bt)">
<text x="1368.5" y="1299.6" textLength="464.5" lengthAdjust="spacingAndGlyphs">Cluster5<tspan dy="6">_</tspan><tspan dy="-6">ID2106</tspan></text>
<text x="1368.5" y="1361.7" textLength="464.5" lengthAdjust="spacingAndGlyphs">Cluster5<tspan dy="6">_</tspan><tspan dy="-6">ID2092</tspan></text>
<text x="1368.5" y="1423.8" textLength="464.5" lengthAdjust="spacingAndGlyphs">Cluster5<tspan dy="6">_</tspan><tspan dy="-6">ID2093</tspan></text>
<text x="1368.5" y="1485.9" textLength="464.5" lengthAdjust="spacingAndGlyphs">Cluster5<tspan dy="6">_</tspan><tspan dy="-6">ID2083</tspan></text>
<text x="1368.5" y="1548" textLength="464.5" lengthAdjust="spacingAndGlyphs">Cluster5<tspan dy="6">_</tspan><tspan dy="-6">ID2087</tspan></text>
<text x="1368.5" y="1610.1" textLength="464.5" lengthAdjust="spacingAndGlyphs">Cluster5<tspan dy="6">_</tspan><tspan dy="-6">ID2257</tspan></text>
<text x="1368.5" y="1672.2" textLength="464.5" lengthAdjust="spacingAndGlyphs">Cluster2<tspan dy="6">_</tspan><tspan dy="-6">ID2293</tspan></text>
<text x="1368.5" y="1734.3" textLength="497.8" lengthAdjust="spacingAndGlyphs">Cluster10<tspan dy="6">_</tspan><tspan dy="-6">ID1666</tspan></text>
<text x="1368.5" y="1796.4" textLength="497.8" lengthAdjust="spacingAndGlyphs">Cluster10<tspan dy="6">_</tspan><tspan dy="-6">ID2218</tspan></text>
<text x="1368.5" y="1858.5" textLength="431.2" lengthAdjust="spacingAndGlyphs">Cluster2<tspan dy="6">_</tspan><tspan dy="-6">ID621</tspan></text>
<text x="1368.5" y="1920.6" textLength="464.5" lengthAdjust="spacingAndGlyphs">Cluster2<tspan dy="6">_</tspan><tspan dy="-6">ID2298</tspan></text>
<text x="1368.5" y="1982.7" textLength="464.5" lengthAdjust="spacingAndGlyphs">Cluster2<tspan dy="6">_</tspan><tspan dy="-6">ID2637</tspan></text>
<text x="1368.5" y="2044.8" textLength="464.5" lengthAdjust="spacingAndGlyphs">Cluster22<tspan dy="6">_</tspan><tspan dy="-6">ID155</tspan></text>
<text x="1368.5" y="2106.9" textLength="431.2" lengthAdjust="spacingAndGlyphs">Cluster2<tspan dy="6">_</tspan><tspan dy="-6">ID909</tspan></text>
<text x="1368.5" y="2169" textLength="497.8" lengthAdjust="spacingAndGlyphs">Cluster52<tspan dy="6">_</tspan><tspan dy="-6">ID1656</tspan></text>
<text x="1368.5" y="2231.1" textLength="464.5" lengthAdjust="spacingAndGlyphs">Cluster2<tspan dy="6">_</tspan><tspan dy="-6">ID1785</tspan></text>
<text x="1368.5" y="2293.2" textLength="464.5" lengthAdjust="spacingAndGlyphs">Cluster10<tspan dy="6">_</tspan><tspan dy="-6">ID263</tspan></text>
<text x="1368.5" y="2355.3" textLength="464.5" lengthAdjust="spacingAndGlyphs">Cluster10<tspan dy="6">_</tspan><tspan dy="-6">ID745</tspan></text>
<text x="1368.5" y="2417.4" textLength="564.4" lengthAdjust="spacingAndGlyphs">Cluster1165<tspan dy="6">_</tspan><tspan dy="-6">ID2023</tspan></text>
<text x="1368.5" y="2479.5" textLength="497.8" lengthAdjust="spacingAndGlyphs">Cluster231<tspan dy="6">_</tspan><tspan dy="-6">ID473</tspan></text>
<text x="1368.5" y="2541.6" textLength="464.5" lengthAdjust="spacingAndGlyphs">Cluster59<tspan dy="6">_</tspan><tspan dy="-6">ID120</tspan></text>
<text x="1368.5" y="2603.7" textLength="464.5" lengthAdjust="spacingAndGlyphs">Cluster10<tspan dy="6">_</tspan><tspan dy="-6">ID753</tspan></text>
<text x="1368.5" y="2665.8" textLength="397.9" lengthAdjust="spacingAndGlyphs">Cluster2<tspan dy="6">_</tspan><tspan dy="-6">ID15</tspan></text>
<text x="1368.5" y="2727.9" textLength="464.5" lengthAdjust="spacingAndGlyphs">Cluster2<tspan dy="6">_</tspan><tspan dy="-6">ID1338</tspan></text>
<text x="1368.5" y="2790" textLength="431.2" lengthAdjust="spacingAndGlyphs">Cluster2<tspan dy="6">_</tspan><tspan dy="-6">ID204</tspan></text>
<text x="1368.5" y="2852.1" textLength="397.9" lengthAdjust="spacingAndGlyphs">Cluster2<tspan dy="6">_</tspan><tspan dy="-6">ID43</tspan></text>
<text x="1368.5" y="2914.2" textLength="431.2" lengthAdjust="spacingAndGlyphs">Cluster2<tspan dy="6">_</tspan><tspan dy="-6">ID310</tspan></text>
<text x="1368.5" y="2976.3" textLength="431.2" lengthAdjust="spacingAndGlyphs">Cluster2<tspan dy="6">_</tspan><tspan dy="-6">ID118</tspan></text>
<text x="1368.5" y="3038.4" textLength="397.9" lengthAdjust="spacingAndGlyphs">Cluster2<tspan dy="6">_</tspan><tspan dy="-6">ID98</tspan></text>
<text x="1368.5" y="3100.5" textLength="431.2" lengthAdjust="spacingAndGlyphs">Cluster2<tspan dy="6">_</tspan><tspan dy="-6">ID572</tspan></text>
<text x="1368.5" y="3162.6" textLength="431.2" lengthAdjust="spacingAndGlyphs">Cluster1<tspan dy="6">_</tspan><tspan dy="-6">ID145</tspan></text>
<text x="1368.5" y="3224.7" textLength="464.5" lengthAdjust="spacingAndGlyphs">Cluster3<tspan dy="6">_</tspan><tspan dy="-6">ID1054</tspan></text>
<text x="1368.5" y="3286.8" textLength="431.2" lengthAdjust="spacingAndGlyphs">Cluster3<tspan dy="6">_</tspan><tspan dy="-6">ID152</tspan></text>
<text x="1368.5" y="3348.9" textLength="464.5" lengthAdjust="spacingAndGlyphs">Cluster1<tspan dy="6">_</tspan><tspan dy="-6">ID1493</tspan></text>
<text x="1368.5" y="3411" textLength="464.5" lengthAdjust="spacingAndGlyphs">Cluster1<tspan dy="6">_</tspan><tspan dy="-6">ID1944</tspan></text>
<text x="1368.5" y="3473.1" textLength="431.2" lengthAdjust="spacingAndGlyphs">Cluster2<tspan dy="6">_</tspan><tspan dy="-6">ID268</tspan></text>
</g>
<g id="boxes" filter="url(#bb)">
<rect class="rb" x="451.3" y="2296.3" width="1390.5" height="63.7"/>
<rect class="rb" x="443.8" y="2421.4" width="1465.8" height="71.2"/>
<rect class="rb" x="451.3" y="2549.1" width="1390.5" height="119.4"/>
<rect class="rb" x="443.8" y="2985.2" width="1330.7" height="66.3"/>
<rect class="rb" x="443.8" y="3413.1" width="1366.6" height="80.3"/>
</g>
</svg></body></html>
